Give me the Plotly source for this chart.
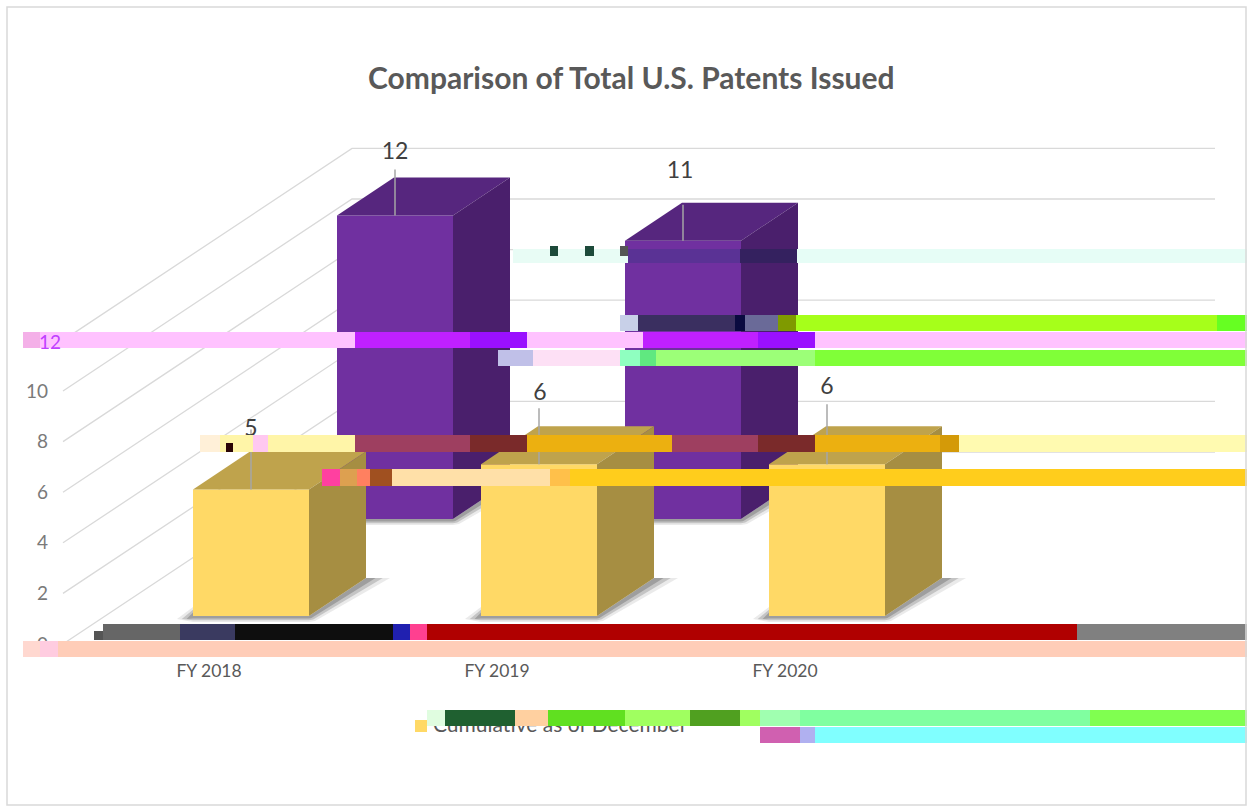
import plotly.graph_objects as go

categories = ["FY 2018", "FY 2019", "FY 2020"]
cumulative_december = [5, 6, 6]
total_categories = ["FY 2018", "FY 2019"]
total_patents = [12, 11]
y_ticks = [0, 2, 4, 6, 8, 10, 12]
title_text = "Comparison of Total U.S. Patents Issued"
legend_text = "Cumulative as of December"

W, H = 1247, 806
LEFT = 49
PX_X, X0 = 288.0, 251.0     # pixels per category, pixel of first category
PX_Y, Y0 = 25.3, 644.0      # pixels per unit, pixel of zero on the front plane
def ux(px): return (px - X0) / PX_X
def uy(py): return (Y0 - py) / PX_Y
def pap_x(px): return (px - LEFT) / (W - LEFT)
def pap_y(py): return 1 - py / H

BAR_W = 116 / PX_X
DEPTH_X, DEPTH_Y = 57 / PX_X, 38 / PX_Y
WALL_X, WALL_Y = 289 / PX_X, 192 / PX_Y
FLOOR_FRONT = (644 - 616) / PX_Y
FLOOR_BACK = (644 - 519) / PX_Y
SHIFT_BACK = 144 / PX_X
AXIS_LEFT = ux(63)
WALL_RIGHT = ux(1215)
FONT = "Lato, 'Open Sans', sans-serif"

fig = go.Figure()

def poly(xs, ys, color, xa, ya):
    fig.add_trace(go.Scatter(x=xs, y=ys, mode="lines", fill="toself", fillcolor=color,
                             line=dict(width=0), hoverinfo="skip", showlegend=False,
                             xaxis=xa, yaxis=ya))

def line(xs, ys, color, width, xa="x", ya="y"):
    fig.add_trace(go.Scatter(x=xs, y=ys, mode="lines", line=dict(color=color, width=width),
                             hoverinfo="skip", showlegend=False, xaxis=xa, yaxis=ya))

# walls, on the base axes
for t in y_ticks:
    line([AXIS_LEFT, AXIS_LEFT + WALL_X, WALL_RIGHT],
         [t, t + WALL_Y, t + WALL_Y], "#d9d9d9", 1.3)

def draw_series(name, xpos, values, base, front, top, side, xa, ya, label_dx, label_up, leader_up):
    l = BAR_W / 2
    for x, v in zip(xpos, values):
        # soft shadow on the floor, kept outside the front face
        for grow, col in ((1.0, "rgba(150,150,150,0.20)"), (0.7, "rgba(110,110,110,0.30)"), (0.4, "rgba(90,90,90,0.35)")):
            poly([x - l - 16 * grow / PX_X, x - l, x - l, x + l, x + l + DEPTH_X,
                  x + l + DEPTH_X + 24 * grow / PX_X, x + l + 6 * grow / PX_X, x + l, x - l],
                 [base - 3 / PX_Y, base + 9 * grow / PX_Y, base, base, base + DEPTH_Y,
                  base + DEPTH_Y, base - 5 * grow / PX_Y, base - 6 * grow / PX_Y, base - 6 * grow / PX_Y],
                 col, xa, ya)
    fig.add_trace(go.Bar(x=xpos, y=values, base=[base] * len(values), width=BAR_W, name=name,
                         marker=dict(color=front, line=dict(width=0)), showlegend=False,
                         hovertemplate="%{x}: %{y}<extra>" + name + "</extra>", xaxis=xa, yaxis=ya))
    for x, v in zip(xpos, values):
        h = base + v
        poly([x - l, x + l, x + l + DEPTH_X, x - l + DEPTH_X], [h, h, h + DEPTH_Y, h + DEPTH_Y], top, xa, ya)
        poly([x + l, x + l + DEPTH_X, x + l + DEPTH_X, x + l], [base, base + DEPTH_Y, h + DEPTH_Y, h], side, xa, ya)
    for x, v, dx, up, lead in zip(xpos, values, label_dx, label_up, leader_up):
        h = base + v
        line([x, x], [h, h + lead / PX_Y], "#a6a6a6", 1.5, xa, ya)
        fig.add_trace(go.Scatter(x=[x + dx / PX_X], y=[h + up / PX_Y], mode="text", text=[str(v)],
                                 textfont=dict(family=FONT, size=23, color="#404040"),
                                 hoverinfo="skip", showlegend=False, xaxis=xa, yaxis=ya))

# back row, on overlaid axes so that it covers the wall lines
draw_series("Total", [categories.index(c) + SHIFT_BACK for c in total_categories], total_patents,
            FLOOR_BACK, "#7030a0", "#56267e", "#4a1f6c", "x2", "y2", [0, -3], [62, 68], [46, 36])
# front row, on further overlaid axes so that it covers the back row
draw_series("Cumulative as of December", [categories.index(c) for c in categories], cumulative_december,
            FLOOR_FRONT, "#ffd966", "#bfa34c", "#a68e42", "x3", "y3", [0, 1, 0], [59, 70, 76], [60, 56, 60])

# legend entry
fig.add_trace(go.Scatter(x=[ux(421)], y=[uy(726)], mode="markers",
                         marker=dict(symbol="square", size=12, color="#ffd966"),
                         hoverinfo="skip", showlegend=False, xaxis="x3", yaxis="y3"))
fig.add_trace(go.Scatter(x=[ux(433)], y=[uy(727)], mode="text", text=[legend_text], textposition="middle right",
                         textfont=dict(family=FONT, size=21, color="#595959"),
                         hoverinfo="skip", showlegend=False, xaxis="x3", yaxis="y3"))

# horizontal display bands across the picture
bands = [
    (249, 263, [(513, 628, "#e8fcf5"), (628, 740, "#5a3295"), (740, 797, "#34215f"), (797, 1247, "#e6fdf6")]),
    (246, 256, [(550, 558, "#1d4a3a"), (585, 594, "#1d4a3a"), (620, 628, "#555555")]),
    (315, 331, [(620, 638, "#c8d0e8"), (638, 735, "#3a2f60"), (735, 745, "#0a0a40"), (745, 778, "#6a6a98"),
                (778, 796, "#7f9a00"), (796, 1217, "#a6ff1a"), (1217, 1247, "#66ff22")]),
    (332, 348, [(23, 40, "#f4b0e8"), (40, 355, "#ffc2ff"), (355, 470, "#c020ff"), (470, 527, "#9a10ff"),
                (527, 643, "#ffc2ff"), (643, 758, "#c020ff"), (758, 815, "#9a10ff"), (815, 1247, "#ffc2ff")]),
    (350, 366, [(498, 533, "#c0c0e8"), (533, 620, "#fde0f5"), (620, 640, "#8fffc0"), (640, 656, "#60e880"),
                (656, 815, "#9cff78"), (815, 1247, "#80ff38")]),
    (435, 452, [(200, 220, "#fff0d8"), (220, 355, "#fff5a8"), (355, 470, "#9e3f60"), (470, 527, "#7a2a2a"),
                (527, 672, "#ecb010"), (672, 758, "#9e3f60"), (758, 815, "#7a2a2a"), (815, 940, "#ecb010"),
                (940, 959, "#d49a08"), (959, 1247, "#fffab0")]),
    (443, 452, [(226, 233, "#2a0505")]),
    (435, 452, [(253, 268, "#ffc8f0")]),
    (469, 486, [(322, 340, "#ff40a0"), (340, 357, "#dda050"), (357, 370, "#ff8060"), (370, 392, "#a05020"),
                (392, 550, "#ffe0a8"), (550, 570, "#ffc04a"), (570, 1247, "#ffcd1c")]),
    (624, 640, [(103, 180, "#666666"), (180, 235, "#3a3a60"), (235, 393, "#0e0e0e"), (393, 410, "#2020b0"),
                (410, 427, "#ff4090"), (427, 1077, "#b00000"), (1077, 1247, "#808080")]),
    (631, 640, [(94, 103, "#555555")]),
    (641, 657, [(23, 40, "#ffd8d0"), (40, 58, "#ffcce0"), (58, 1247, "#ffcdb8")]),
    (710, 726, [(427, 445, "#e0fde0"), (445, 515, "#1f6030"), (515, 548, "#ffd0a0"), (548, 625, "#60e020"),
                (625, 690, "#a0ff60"), (690, 740, "#50a020"), (740, 760, "#a0ff60"), (760, 800, "#a0ffb0"),
                (800, 1090, "#80ffa0"), (1090, 1247, "#80ff50")]),
    (727, 743, [(760, 800, "#d060b0"), (800, 815, "#b0b0f0"), (815, 1247, "#80ffff")]),
]
shapes = []
for y0, y1, parts in bands:
    for x0, x1, col in parts:
        shapes.append(dict(type="rect", xref="paper", yref="paper", layer="above",
                           x0=pap_x(x0), x1=pap_x(x1), y0=pap_y(y1), y1=pap_y(y0),
                           fillcolor=col, line=dict(width=0)))
# chart frame
shapes.append(dict(type="rect", xref="paper", yref="paper", layer="above",
                   x0=pap_x(7), x1=pap_x(1246), y0=pap_y(805), y1=pap_y(7),
                   line=dict(color="#d9d9d9", width=1.5), fillcolor="rgba(0,0,0,0)"))

xr = [ux(LEFT), ux(W)]
yr = [uy(H), uy(0)]
fig.update_layout(
    width=W, height=H, autosize=False, margin=dict(l=LEFT, r=0, t=0, b=0),
    paper_bgcolor="white", plot_bgcolor="white", barmode="overlay", showlegend=False,
    shapes=shapes,
    xaxis=dict(range=xr, anchor="free", position=pap_y(658),
               tickvals=[i - 42 / PX_X for i in range(len(categories))], ticktext=categories,
               showgrid=False, zeroline=False, showline=False, ticks="",
               tickfont=dict(family=FONT, size=17.5, color="#595959")),
    yaxis=dict(range=yr, tickvals=y_ticks, ticktext=["" if t == 12 else str(t) for t in y_ticks],
               showgrid=False, zeroline=False, showline=False, ticks="",
               tickfont=dict(family=FONT, size=19, color="#7a7a7a")),
    xaxis2=dict(range=xr, overlaying="x", visible=False),
    yaxis2=dict(range=yr, overlaying="y", visible=False),
    xaxis3=dict(range=xr, overlaying="x", visible=False),
    yaxis3=dict(range=yr, overlaying="y", visible=False),
    annotations=[
        dict(text=title_text, xref="paper", yref="paper", x=pap_x(631), y=pap_y(77),
             showarrow=False, xanchor="center", yanchor="middle",
             font=dict(family=FONT, size=30, color="#595959", weight="bold")),
        dict(text="12", xref="paper", yref="paper", x=pap_x(63), y=pap_y(341),
             showarrow=False, xanchor="right", yanchor="middle",
             font=dict(family=FONT, size=19, color="#c040ff")),
    ],
)

fig.write_html("out.html", config=dict(displayModeBar=False),
               post_script="document.body.style.margin='0';")
